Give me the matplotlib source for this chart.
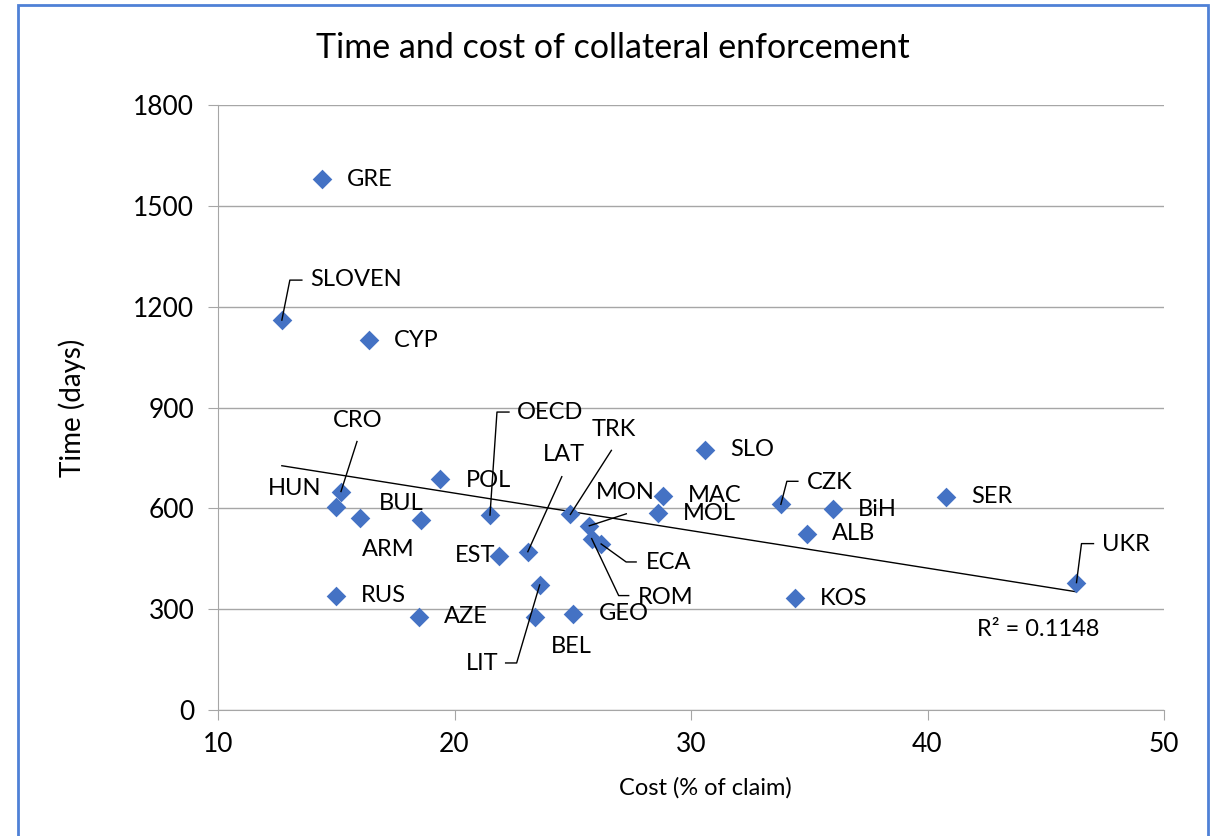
import numpy as np
import matplotlib.pyplot as plt
from matplotlib.patches import Rectangle

plt.rcParams['font.family'] = ['Lato', 'DejaVu Sans']

# Data
countries = ['GRE', 'SLOVEN', 'CYP', 'CRO', 'HUN', 'BUL', 'ARM', 'POL', 'OECD',
             'EST', 'LAT', 'LIT', 'BEL', 'GEO', 'RUS', 'AZE', 'TRK', 'MON', 'ROM',
             'ECA', 'MAC', 'MOL', 'SLO', 'CZK', 'BiH', 'ALB', 'KOS', 'SER', 'UKR']
cost = [14.4, 12.7, 16.4, 15.2, 15.0, 16.0, 18.6, 19.4, 21.5,
        21.9, 23.1, 23.6, 23.4, 25.0, 15.0, 18.5, 24.9, 25.7, 25.8,
        26.2, 28.8, 28.6, 30.6, 33.8, 36.0, 34.9, 34.4, 40.8, 46.3]
time_days = [1580, 1160, 1100, 650, 605, 570, 565, 687, 580,
             458, 471, 372, 276, 286, 340, 278, 582, 548, 510,
             494, 637, 585, 775, 612, 597, 525, 332, 635, 379]
x_ticks = [10, 20, 30, 40, 50]
y_ticks = [0, 300, 600, 900, 1200, 1500, 1800]
r2_text = 'R² = 0.1148'

# label offsets in pixels (dx, dy up) from each point, default (25, 0)
label_offsets = {
    'GRE': (25, -1), 'SLOVEN': (28, 41), 'CRO': (-8, 71), 'HUN': (-68, 18),
    'BUL': (19, 15), 'ARM': (-59, -29), 'POL': (26, -1), 'OECD': (27, 103),
    'EST': (-45, 1), 'LAT': (15, 97), 'LIT': (-74, -79), 'BEL': (16, -29),
    'GEO': (26, 0), 'TRK': (21, 85), 'MON': (7, 33), 'ROM': (46, -59),
    'ECA': (45, -19), 'CZK': (26, 22), 'UKR': (26, 38),
}
# leader lines (pixel offsets from the point)
leaders = {
    'SLOVEN': [(0, 0), (8, 40), (20, 40)],
    'CRO': [(0, 0), (16, 50)],
    'OECD': [(0, 0), (7, 103), (19, 103)],
    'LAT': [(0, 0), (34, 75)],
    'LIT': [(0, 0), (-23, -78), (-34, -78)],
    'TRK': [(0, 0), (41, 64)],
    'MON': [(0, 0), (37, 12)],
    'ROM': [(0, 0), (27, -57), (37, -57)],
    'ECA': [(0, 0), (25, -18), (35, -18)],
    'CZK': [(0, 0), (6, 23), (17, 23)],
    'UKR': [(0, 0), (5, 39), (17, 39)],
}

fig = plt.figure(figsize=(12.2, 8.36), dpi=100)
ax = fig.add_axes([218 / 1220, 126 / 836, 946 / 1220, 605 / 836])

ax.set_xlim(10, 50)
ax.set_ylim(0, 1800)
ax.set_xticks(x_ticks)
ax.set_yticks(y_ticks)
ax.grid(axis='y', color='#A6A6A6', lw=1)
ax.set_axisbelow(True)
for s in ['top', 'right']:
    ax.spines[s].set_visible(False)
for s in ['left', 'bottom']:
    ax.spines[s].set_color('#A6A6A6')
ax.tick_params(colors='#A6A6A6', labelcolor='black', labelsize=19, length=7)
ax.tick_params(axis='x', pad=9)
ax.tick_params(axis='y', pad=10)

ax.scatter(cost, time_days, marker='D', s=100, color='#4472C4', zorder=3,
           linewidths=0)

# linear trend
slope, icpt = np.polyfit(cost, time_days, 1)
xs = np.array([min(cost), max(cost)])
ax.plot(xs, slope * xs + icpt, color='black', lw=1, zorder=2)
ax.annotate(r2_text, (xs[1], slope * xs[1] + icpt), xytext=(-99, -38),
            textcoords='offset pixels', ha='left', va='center', fontsize=17)

for name, x, y in zip(countries, cost, time_days):
    dx, dy = label_offsets.get(name, (25, 0))
    ax.annotate(name, (x, y), xytext=(dx, dy), textcoords='offset pixels',
                ha='left', va='center', fontsize=17)
    if name in leaders:
        base = ax.transData.transform((x, y))
        pts = base + np.array(leaders[name])
        d = ax.transData.inverted().transform(pts)
        ax.plot(d[:, 0], d[:, 1], color='black', lw=1, clip_on=False, zorder=4)

ax.set_xlabel('Cost (% of claim)', fontsize=17)
ax.xaxis.set_label_coords((705 - 218) / 946, -(788 - 710) / 605)
ax.xaxis.label.set_va('center')
ax.set_ylabel('Time (days)', fontsize=20)
ax.yaxis.set_label_coords(-(218 - 72) / 946, (710 - 408) / 605)
ax.yaxis.label.set_va('center')
fig.text(613 / 1220, 1 - 48 / 836, 'Time and cost of collateral enforcement',
         ha='center', va='center', fontsize=24.5)

fig.patches.append(Rectangle((18 / 1220, -0.1), 1190 / 1220, 1.1 - 5 / 836,
                             transform=fig.transFigure, fill=False,
                             edgecolor='#4F81D6', lw=2))

fig.savefig('out.png', dpi=100)
